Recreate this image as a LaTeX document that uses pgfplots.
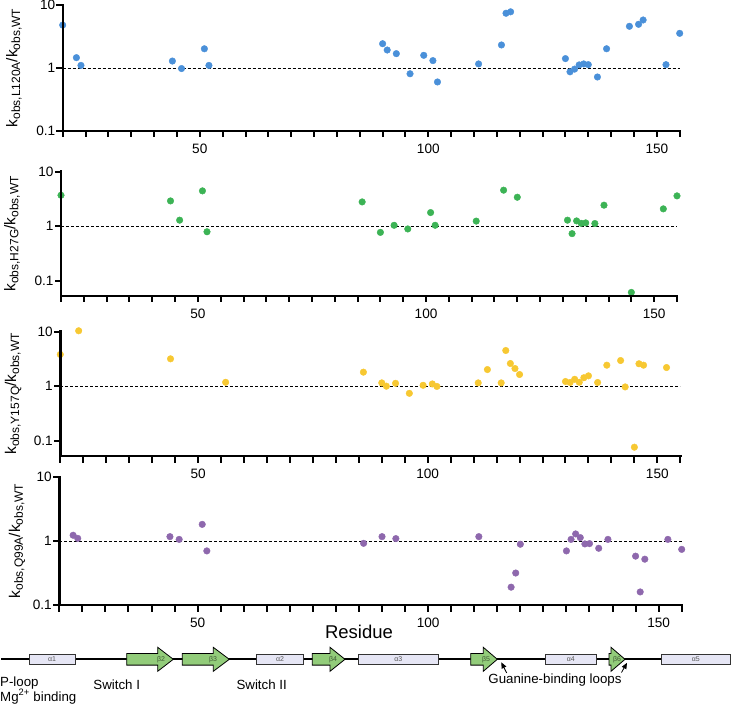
\documentclass[border=0pt]{standalone}
\usepackage{fontspec}
\setmainfont{Liberation Sans}
\usepackage{pgfplots}
\pgfplotsset{compat=1.18}
\usetikzlibrary{arrows.meta,calc}

\definecolor{cblue}{RGB}{74,144,217}
\definecolor{cgreen}{RGB}{60,179,85}
\definecolor{cyellow}{RGB}{247,200,50}
\definecolor{cpurple}{RGB}{142,104,173}
\definecolor{helix}{RGB}{230,230,245}
\definecolor{strand}{RGB}{146,204,122}

\newcommand{\sbs}[1]{\raisebox{-0.35ex}{\fontsize{12}{12}\selectfont #1}}
\newcommand{\kobs}[1]{k\sbs{obs,#1}/k\sbs{obs,WT}}

% remember where the y ticks sit, the frame is drawn after all axes
\newcommand{\ytickpts}[1]{%
  \coordinate (#1a) at (axis cs:20,0.1);
  \coordinate (#1b) at (axis cs:20,1);
  \coordinate (#1c) at (axis cs:20,10);
}

\pgfplotsset{
  every axis/.append style={
    scale only axis,
    xmin=20, xmax=155, ymax=10,
    axis x line*=bottom, axis y line*=left,
    every outer x axis line/.append style={draw=none},
    every outer y axis line/.append style={draw=none},
    xtick={50,100,150}, xticklabels={50,100,150},
    ytick={0.1,1,10}, yticklabels={0.1,1,10},
    yminorticks=false,
    tick align=outside,
    major tick length=6pt,
    every major tick/.append style={draw=none},
    ticklabel style={font=\fontsize{13.6}{14}\selectfont},
    xticklabel style={yshift=-3pt},
    yticklabel style={xshift=2pt},
    clip=false,
    ylabel style={font=\fontsize{15.5}{16}\selectfont, anchor=center},
  },
}
\tikzset{
  ratiodots/.style={only marks, mark=*, mark size=3.3pt, color=#1},
  unityline/.style={black, line width=0.8pt, dash pattern=on 3pt off 2pt},
}

\begin{document}
\begin{tikzpicture}
\path[use as bounding box] (0,0) rectangle (732pt,-706pt);

% ---------- L120A ----------
\begin{semilogyaxis}[name=p1, anchor=south west, at={(62.7pt,-131pt)}, width=617pt, height=126pt, ymin=0.1,
  ylabel={\kobs{L120A}}, ylabel style={at={(axis description cs:-0.079,0.5)}}]
\ytickpts{p1}
\addplot[unityline] coordinates {(20,1) (155,1)};
\addplot[ratiodots=cblue] table {
x y
20 4.8
23 1.46
24 1.1
44 1.29
46 0.98
51 2.02
52 1.1
90 2.43
91 1.93
93 1.69
96 0.81
99 1.59
101 1.31
102 0.60
111 1.16
116 2.32
117 7.4
118 7.8
130 1.41
131 0.87
132 0.96
133 1.12
134 1.16
135 1.13
137 0.72
139 2.02
144 4.59
146 4.94
147 5.78
152 1.13
155 3.55
};
\end{semilogyaxis}

% ---------- H27G ----------
\begin{semilogyaxis}[name=p2, anchor=south west, at={(61pt,-296pt)}, width=616pt, height=124.3pt, ymin=0.0524,
  ylabel={\kobs{H27G}}, ylabel style={at={(axis description cs:-0.0795,0.5)}}]
\ytickpts{p2}
\addplot[unityline] coordinates {(20,1) (155,1)};
\addplot[ratiodots=cgreen] table {
x y
20 3.7
44 2.91
46 1.29
51 4.45
52 0.79
86 2.79
90 0.77
93 1.04
96 0.89
101 1.78
102 1.04
111 1.24
117 4.58
120 3.4
131 1.29
132 0.73
133 1.25
134 1.13
135 1.15
137 1.12
139 2.43
145 0.061
152 2.08
155 3.6
};
\end{semilogyaxis}

% ---------- Y157Q ----------
\begin{semilogyaxis}[name=p3, anchor=south west, at={(60.3pt,-456pt)}, width=620pt, height=124.3pt, ymin=0.0524,
  ylabel={\kobs{Y157Q}}, ylabel style={at={(axis description cs:-0.076,0.5)}}]
\ytickpts{p3}
\addplot[unityline] coordinates {(20,1) (155,1)};
\addplot[ratiodots=cyellow] table {
x y
20 3.82
24 10.4
44 3.18
56 1.18
86 1.81
90 1.15
91 1.0
93 1.13
96 0.74
99 1.04
101 1.1
102 0.99
111 1.15
113 2.02
116 1.15
117 4.52
118 2.61
119 2.11
120 1.64
130 1.22
131 1.17
132 1.34
133 1.18
134 1.43
135 1.55
137 1.17
139 2.43
142 2.96
143 0.97
145 0.076
146 2.58
147 2.43
152 2.2
};
\end{semilogyaxis}

% ---------- Q99A ----------
\begin{semilogyaxis}[name=p4, anchor=south west, at={(59.3pt,-605pt)}, width=622.4pt, height=128pt, ymin=0.1,
  ylabel={\kobs{Q99A}}, ylabel style={at={(axis description cs:-0.068,0.5)}}]
\ytickpts{p4}
\addplot[unityline] coordinates {(20,1) (155,1)};
\addplot[ratiodots=cpurple] table {
x y
23 1.23
24 1.1
44 1.17
46 1.06
51 1.82
52 0.70
86 0.92
90 1.17
93 1.09
111 1.17
118 0.19
119 0.316
120 0.89
130 0.70
131 1.06
132 1.29
133 1.13
134 0.90
135 0.91
137 0.77
139 1.06
145 0.58
146 0.16
147 0.52
152 1.06
155 0.74
};
\end{semilogyaxis}

% ---------- frames and ticks ----------
\foreach \p in {p1,p2,p3,p4}{
  \draw[line width=2.4pt, line cap=rect] (\p.north west) -- (\p.south west) -- (\p.south east);
  \foreach \t in {0,...,27}{
    \draw[line width=2pt] ($(\p.south west)!\t/27!(\p.south east)$) -- ++(0pt,-6.5pt);
  }
  \foreach \s in {a,b,c}{
    \draw[line width=2pt] (\p\s) -- ++(-6.5pt,0pt);
  }
}

\node[anchor=base, font=\fontsize{18.5}{19}\selectfont] at (359pt,-638pt) {Residue};

% ---------- secondary structure ----------
\begin{scope}[x=1pt, y=-1pt]
\draw[line width=2pt] (1,659.3) -- (731,659.3);
\foreach \a/\b/\t in {29.3/75/1, 256.7/303.3/2, 358.3/438.3/3, 545/596.7/4, 661/730.7/5}{
  \draw[fill=helix, draw=black!80, line width=0.8pt] (\a,654.5) rectangle (\b,664.3);
  \node[font=\fontsize{7}{7}\selectfont, text=black!65] at ({(\a+\b)/2},659.4) {α\t};
}
\foreach \a/\b/\c/\t/\lx in {126.7/157.7/173.3/2/161, 182.3/213.3/229.3/3/213, 312.3/330/345/4/333, 470.7/483.3/497.3/5/486, 609/611/625/6/617}{
  \draw[fill=strand, draw=black, line width=0.8pt]
    (\a,653.5) -- (\b,653.5) -- (\b,647.3) -- (\c,659.3) -- (\b,671.3) -- (\b,665.1) -- (\a,665.1) -- cycle;
  \node[font=\fontsize{7}{7}\selectfont, text=black!55!strand] at (\lx,659.4) {β\t};
}
\begin{scope}[font=\fontsize{13.3}{14}\selectfont]
\node[anchor=base west, inner sep=0] at (0,686.5) {P-loop};
\node[anchor=base west, inner sep=0] at (0,701) {Mg\textsuperscript{2+} binding};
\node[anchor=base, inner sep=0] at (116.7,689) {Switch I};
\node[anchor=base, inner sep=0] at (261.7,689) {Switch II};
\node[anchor=base, inner sep=0] at (555,683.3) {Guanine-binding loops};
\end{scope}
\draw[-{Triangle[length=6pt,width=5pt]}, line width=0.8pt] (506.7,673) -- (501.3,662.3);
\draw[-{Triangle[length=6pt,width=5pt]}, line width=0.8pt] (621.5,672.5) -- (627,662.8);
\end{scope}
\end{tikzpicture}
\end{document}
